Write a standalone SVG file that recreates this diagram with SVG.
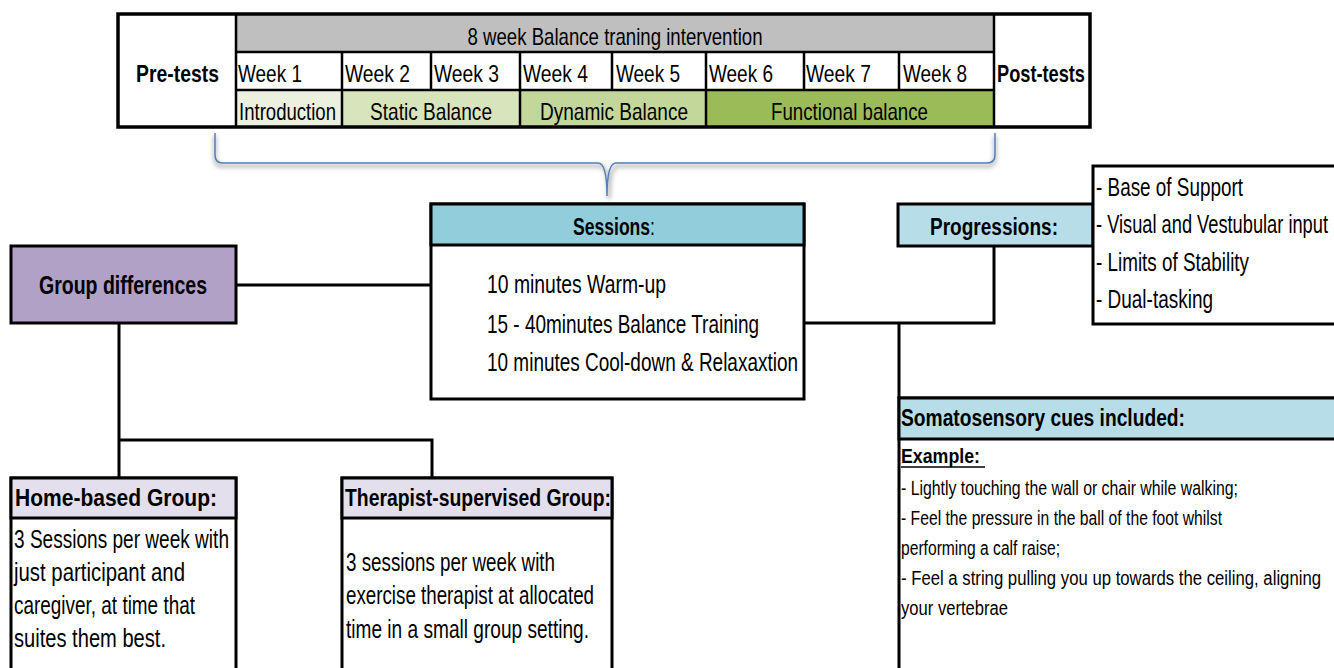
<svg xmlns="http://www.w3.org/2000/svg" width="1334" height="668" viewBox="0 0 1334 668">
<defs>
<style>
text{font-family:"Liberation Sans",Arial,sans-serif;fill:#000}
.b{font-weight:bold}
.box{stroke:#000;stroke-width:3}
.thin{stroke:#000;stroke-width:2.5;fill:none}
.con{stroke:#000;stroke-width:3;fill:none}
.t20{font-size:20px}
.t23{font-size:23px}
.t24{font-size:24px}
.t25{font-size:25px}
.t26{font-size:26px}
</style>
<filter id="sh" x="-5%" y="-50%" width="110%" height="200%"><feGaussianBlur stdDeviation="2"/></filter>
</defs>
<rect width="1334" height="668" fill="#fff"/>

<g id="timeline">
<rect x="118" y="14" width="972" height="113" fill="#fff"/>
<rect x="236" y="14" width="758" height="38" fill="#BFBFBF"/>
<rect x="236" y="90" width="106" height="37" fill="#EBF1DE"/>
<rect x="342" y="90" width="178" height="37" fill="#D8E4BC"/>
<rect x="520" y="90" width="186" height="37" fill="#C4D79B"/>
<rect x="706" y="90" width="288" height="37" fill="#9BBB59"/>
<path class="thin" d="M236,14V127M994,14V127M236,52H994M236,90H994M342,52V127M431,52V90M520,52V127M612,52V90M706,52V127M804,52V90M899,52V90"/>
<rect x="118" y="14" width="972" height="113" fill="none" stroke="#000" stroke-width="3.5"/>
<text class="t24" x="615" y="45" text-anchor="middle" textLength="295" lengthAdjust="spacingAndGlyphs">8 week Balance traning intervention</text>
<text class="t24 b" x="136" y="82" textLength="83" lengthAdjust="spacingAndGlyphs">Pre-tests</text>
<text class="t24 b" x="997" y="82" textLength="88" lengthAdjust="spacingAndGlyphs">Post-tests</text>
<text class="t24" x="238" y="82" textLength="64" lengthAdjust="spacingAndGlyphs">Week 1</text>
<text class="t24" x="345" y="82" textLength="65" lengthAdjust="spacingAndGlyphs">Week 2</text>
<text class="t24" x="434" y="82" textLength="65" lengthAdjust="spacingAndGlyphs">Week 3</text>
<text class="t24" x="523" y="82" textLength="65" lengthAdjust="spacingAndGlyphs">Week 4</text>
<text class="t24" x="616" y="82" textLength="64" lengthAdjust="spacingAndGlyphs">Week 5</text>
<text class="t24" x="709" y="82" textLength="64" lengthAdjust="spacingAndGlyphs">Week 6</text>
<text class="t24" x="806" y="82" textLength="65" lengthAdjust="spacingAndGlyphs">Week 7</text>
<text class="t24" x="903" y="82" textLength="64" lengthAdjust="spacingAndGlyphs">Week 8</text>
<text class="t24" x="239" y="120" textLength="97" lengthAdjust="spacingAndGlyphs">Introduction</text>
<text class="t24" x="370" y="120" textLength="122" lengthAdjust="spacingAndGlyphs">Static Balance</text>
<text class="t24" x="540" y="120" textLength="148" lengthAdjust="spacingAndGlyphs">Dynamic Balance</text>
<text class="t24" x="771" y="120" textLength="157" lengthAdjust="spacingAndGlyphs">Functional balance</text>
</g>

<g id="brace">
<path d="M215,136 V158 Q215,166 223,166 H600 Q609,166 609,199 Q609,166 618,166 H987 Q995,166 995,158 V136" fill="none" stroke="#999" stroke-width="4" opacity="0.6" filter="url(#sh)"/>
<path d="M215,133 V155 Q215,163 223,163 H598 Q607,163 607,196 Q607,163 616,163 H987 Q995,163 995,155 V133" fill="none" stroke="#4F81BD" stroke-width="1.5"/>
</g>

<g id="connectors">
<path class="con" d="M236,285H431"/>
<path class="con" d="M119,323V478M119,440H432V478"/>
<path class="con" d="M804,323H994V246M899,323V398"/>
</g>

<g id="group-differences">
<rect class="box" x="11" y="246" width="225" height="77" fill="#B2A1C7"/>
<text class="t25 b" x="123" y="294" text-anchor="middle" textLength="168" lengthAdjust="spacingAndGlyphs">Group differences</text>
</g>

<g id="sessions">
<rect class="box" x="431" y="204" width="373" height="195" fill="#fff"/>
<rect class="box" x="431" y="204" width="373" height="41" fill="#92CDDC"/>
<text class="t24 b" x="573" y="235" textLength="82" lengthAdjust="spacingAndGlyphs">Sessions<tspan font-weight="normal">:</tspan></text>
<text class="t26" x="487" y="293" textLength="179" lengthAdjust="spacingAndGlyphs">10 minutes Warm-up</text>
<text class="t26" x="487" y="333" textLength="272" lengthAdjust="spacingAndGlyphs">15 - 40minutes Balance Training</text>
<text class="t26" x="487" y="371" textLength="311" lengthAdjust="spacingAndGlyphs">10 minutes Cool-down &amp; Relaxaxtion</text>
</g>

<g id="progressions">
<rect class="box" x="898" y="204" width="195" height="42" fill="#B7DEE8"/>
<text class="t24 b" x="930" y="235" textLength="128" lengthAdjust="spacingAndGlyphs">Progressions:</text>
</g>

<g id="progression-list">
<rect class="box" x="1093" y="166" width="250" height="158" fill="#fff"/>
<text class="t26" x="1096" y="196" textLength="147" lengthAdjust="spacingAndGlyphs">- Base of Support</text>
<text class="t26" x="1096" y="233" textLength="232" lengthAdjust="spacingAndGlyphs">- Visual and Vestubular input</text>
<text class="t26" x="1096" y="271" textLength="153" lengthAdjust="spacingAndGlyphs">- Limits of Stability</text>
<text class="t26" x="1096" y="308" textLength="117" lengthAdjust="spacingAndGlyphs">- Dual-tasking</text>
</g>

<g id="somatosensory">
<rect class="box" x="899" y="398" width="450" height="290" fill="#fff"/>
<rect class="box" x="899" y="398" width="450" height="41" fill="#B7DEE8"/>
<text class="t24 b" x="901" y="426" textLength="284" lengthAdjust="spacingAndGlyphs">Somatosensory cues included:</text>
<text class="t20 b" x="901" y="463" textLength="79" lengthAdjust="spacingAndGlyphs">Example:</text>
<line x1="901" y1="467" x2="985" y2="467" stroke="#000" stroke-width="1.5"/>
<text class="t20" x="901" y="495" textLength="337" lengthAdjust="spacingAndGlyphs">- Lightly touching the wall or chair while walking;</text>
<text class="t20" x="901" y="525" textLength="321" lengthAdjust="spacingAndGlyphs">- Feel the pressure in the ball of the foot whilst</text>
<text class="t20" x="901" y="555" textLength="159" lengthAdjust="spacingAndGlyphs">performing a calf raise;</text>
<text class="t20" x="901" y="585" textLength="420" lengthAdjust="spacingAndGlyphs">- Feel a string pulling you up towards the ceiling, aligning</text>
<text class="t20" x="901" y="615" textLength="107" lengthAdjust="spacingAndGlyphs">your vertebrae</text>
</g>

<g id="home-based">
<rect class="box" x="11" y="478" width="225" height="210" fill="#fff"/>
<rect class="box" x="11" y="478" width="225" height="40" fill="#E4DFEC"/>
<text class="t24 b" x="15" y="506" textLength="202" lengthAdjust="spacingAndGlyphs">Home-based Group:</text>
<text class="t25" x="14" y="548" textLength="215" lengthAdjust="spacingAndGlyphs">3 Sessions per week with</text>
<text class="t25" x="14" y="581" textLength="171" lengthAdjust="spacingAndGlyphs">just participant and</text>
<text class="t25" x="14" y="614" textLength="181" lengthAdjust="spacingAndGlyphs">caregiver, at time that</text>
<text class="t25" x="14" y="647" textLength="152" lengthAdjust="spacingAndGlyphs">suites them best.</text>
</g>

<g id="therapist-supervised">
<rect class="box" x="342" y="478" width="270" height="210" fill="#fff"/>
<rect class="box" x="342" y="478" width="270" height="40" fill="#E4DFEC"/>
<text class="t24 b" x="345" y="506" textLength="266" lengthAdjust="spacingAndGlyphs">Therapist-supervised Group:</text>
<text class="t25" x="346" y="571" textLength="209" lengthAdjust="spacingAndGlyphs">3 sessions per week with</text>
<text class="t25" x="346" y="604" textLength="248" lengthAdjust="spacingAndGlyphs">exercise therapist at allocated</text>
<text class="t25" x="346" y="638" textLength="243" lengthAdjust="spacingAndGlyphs">time in a small group setting.</text>
</g>
</svg>
